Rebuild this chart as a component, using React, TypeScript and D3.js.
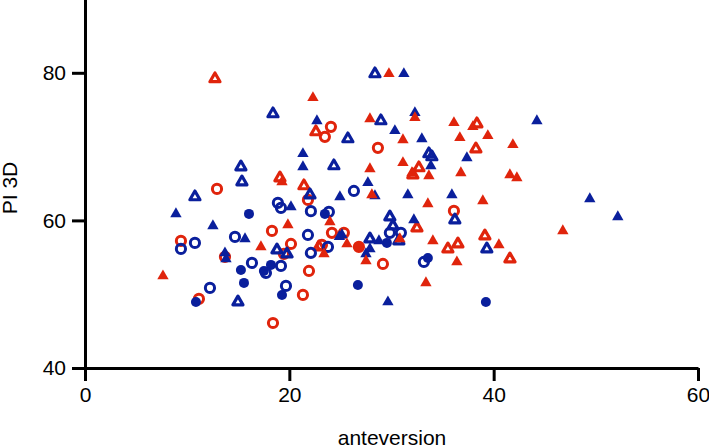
import React, { useRef, useEffect } from "react";
import * as d3 from "d3";

type Pt = [number, number];

// anteversion, PI 3D
const redTriangles: Pt[] = [[29.75,79.86],[22.31,76.61],[27.89,73.76],[32.29,73.9],[31.12,70.91],[36.11,73.22],[37.96,72.68],[36.69,71.19],[39.43,71.46],[41.88,70.24],[31.12,67.8],[27.89,66.98],[33.66,66.03],[36.79,66.44],[41.59,66.17],[42.27,65.76],[28.08,63.46],[33.56,62.24],[38.94,62.64],[32,66.44],[19.28,65.22],[19.86,59.39],[17.22,56.41],[7.63,52.47],[23.97,59.8],[23.39,55.46],[25.64,56.81],[27.5,54.51],[34.05,57.22],[36.4,54.37],[40.51,56.68],[46.77,58.58],[33.37,51.53],[30.82,57.49]];
const blueTriangles: Pt[] = [[31.21,79.86],[22.7,73.49],[32.29,74.58],[30.33,72.14],[32.97,71.05],[37.38,68.47],[21.33,69.02],[21.33,67.25],[33.85,67.39],[27.69,65.09],[24.95,63.19],[28.38,63.32],[31.6,63.46],[35.91,63.46],[44.23,73.49],[32.19,60.07],[8.9,60.88],[12.52,59.25],[20.16,61.83],[15.66,57.49],[13.7,55.59],[13.8,54.78],[27.89,56.14],[27.5,55.46],[28.77,57.22],[25.15,58.04],[24.9,57.8],[49.41,62.92],[52.15,60.47],[29.65,48.95]];
const blueOpenTriangles: Pt[] = [[28.38,79.86],[28.96,73.49],[25.73,71.05],[24.36,67.39],[33.66,69.02],[33.95,68.61],[22.02,63.46],[18.4,74.44],[15.26,67.25],[15.36,65.22],[10.76,63.19],[18.79,56],[19.77,55.46],[14.97,48.95],[29.84,60.47],[30.14,59.25],[27.89,57.49],[30.72,57.22],[36.2,60.07],[39.33,56.14]];
const redOpenTriangles: Pt[] = [[12.72,79.19],[22.6,72],[38.36,73.08],[38.26,69.69],[32.68,67.12],[32.09,66.17],[21.43,64.68],[19.08,65.76],[22.9,56.41],[32.49,58.98],[35.52,56.14],[36.5,56.81],[39.14,57.9],[41.59,54.78]];
const redOpenCircles: Pt[] = [[24.07,72.68],[23.48,71.32],[28.67,69.83],[21.82,62.78],[36.11,61.29],[12.92,64.27],[18.3,58.58],[20.16,56.81],[19.47,55.46],[9.39,57.22],[13.7,55.05],[11.15,49.36],[21.33,49.9],[18.4,46.1],[21.92,53.15],[24.17,58.31],[25.34,58.31],[23.19,56.68],[26.81,56.41],[29.16,54.1]];
const redCircles: Pt[] = [[26.81,56.41]];
const blueOpenCircles: Pt[] = [[26.32,63.99],[23.87,61.15],[22.11,61.25],[18.88,62.37],[19.18,61.69],[14.68,57.76],[10.76,56.95],[9.39,56.14],[16.34,54.24],[19.18,53.83],[17.71,52.88],[12.23,50.85],[19.67,51.12],[21.82,58.03],[22.11,55.59],[23.78,56.41],[29.84,58.31],[30.92,58.31],[33.17,54.37]];
const blueCircles: Pt[] = [[23.48,60.88],[16.05,60.88],[15.26,53.29],[18.2,53.97],[17.51,53.15],[15.56,51.53],[10.86,48.95],[19.28,49.9],[26.71,51.25],[29.55,56.95],[33.56,54.91],[39.24,48.95]];

const xTicks = [0, 20, 40, 60];
const yTicks = [40, 60, 80];

const RED = "#e0240c";
const BLUE = "#0a1f9c";
const FONT = "'Liberation Sans', Arial, sans-serif";

const App = () => {
  const ref = useRef<SVGSVGElement>(null);

  useEffect(() => {
    const svg = d3.select(ref.current);
    svg.selectAll("*").remove();

    const x = d3.scaleLinear().domain([0, 60]).range([85, 698]);
    const y = d3.scaleLinear().domain([40, 90]).range([368, -1]);

    const triangle = d3.symbol().type(d3.symbolTriangle);
    const drawTri = (data: Pt[], color: string, open: boolean) => {
      svg.append("g").selectAll("path").data(data).join("path")
        .attr("transform", d => `translate(${x(d[0])},${y(d[1])})`)
        .attr("d", triangle.size(open ? 44 : 56)())
        .attr("fill", open ? "none" : color)
        .attr("stroke", open ? color : "none")
        .attr("stroke-width", open ? 3.2 : 0)
        .attr("stroke-linejoin", "round");
    };
    const drawCircle = (data: Pt[], color: string, open: boolean) => {
      svg.append("g").selectAll("circle").data(data).join("circle")
        .attr("cx", d => x(d[0]))
        .attr("cy", d => y(d[1]))
        .attr("r", open ? 4.6 : 5)
        .attr("fill", open ? "none" : color)
        .attr("stroke", open ? color : "none")
        .attr("stroke-width", open ? 3 : 0);
    };

    drawCircle(redOpenCircles, RED, true);
    drawCircle(redCircles, RED, false);
    drawTri(redOpenTriangles, RED, true);
    drawCircle(blueCircles, BLUE, false);
    drawCircle(blueOpenCircles, BLUE, true);
    drawTri(blueTriangles, BLUE, false);
    drawTri(blueOpenTriangles, BLUE, true);
    drawTri(redTriangles, RED, false);

    // axes
    const xAxis = svg.append("g")
      .attr("transform", "translate(0,368)")
      .call(d3.axisBottom(x).tickValues(xTicks).tickFormat(d3.format("d")).tickSize(13).tickPadding(6).tickSizeOuter(0));
    const yAxis = svg.append("g")
      .attr("transform", "translate(85,0)")
      .call(d3.axisLeft(y).tickValues(yTicks).tickFormat(d3.format("d")).tickSize(13).tickPadding(6).tickSizeOuter(0));
    [xAxis, yAxis].forEach(a => {
      a.selectAll("path, line").attr("stroke", "#000").attr("stroke-width", 3);
      a.selectAll("text").attr("fill", "#000").style("font-family", FONT).style("font-size", "21px");
    });

    svg.append("text")
      .attr("x", 392).attr("y", 445)
      .attr("text-anchor", "middle")
      .style("font-family", FONT).style("font-size", "21px")
      .text("anteversion");
    svg.append("text")
      .attr("transform", "translate(17,188) rotate(-90)")
      .attr("text-anchor", "middle")
      .style("font-family", FONT).style("font-size", "21px")
      .text("PI 3D");
  }, []);

  return <svg ref={ref} width={709} height={446} style={{ position: "absolute", left: 0, top: 0, background: "#fff" }} />;
};

export default App;
